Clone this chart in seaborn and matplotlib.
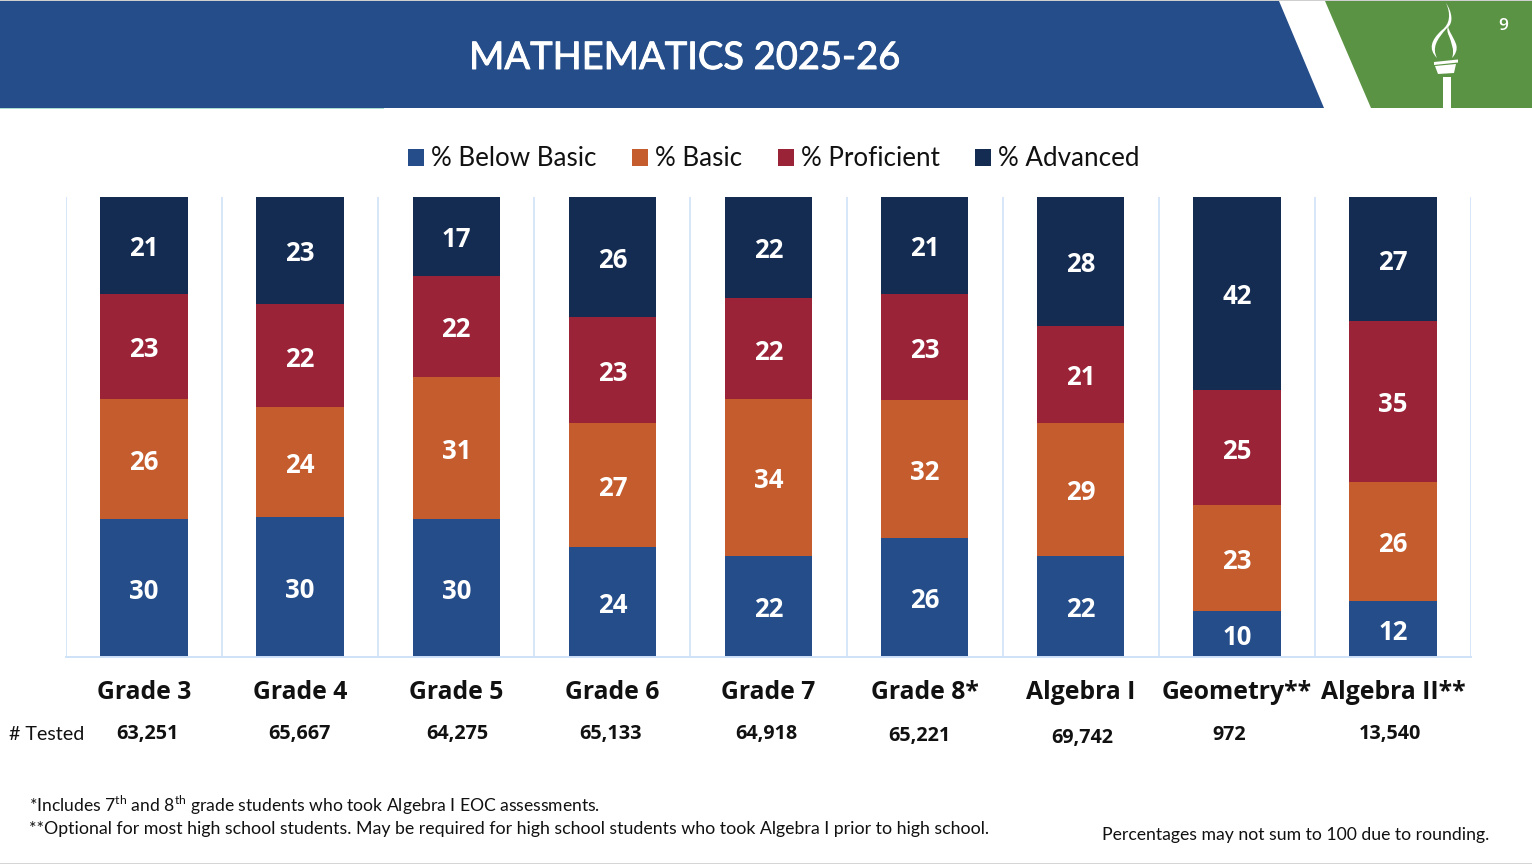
import numpy as np
import pandas as pd
import matplotlib
matplotlib.use("Agg")
import matplotlib.pyplot as plt
import matplotlib.patheffects as pe
from matplotlib.patches import Polygon, PathPatch, Rectangle
from matplotlib.path import Path
import seaborn as sns

grades = ["Grade 3", "Grade 4", "Grade 5", "Grade 6", "Grade 7", "Grade 8*",
          "Algebra I", "Geometry**", "Algebra II**"]
tested = ["63,251", "65,667", "64,275", "65,133", "64,918", "65,221", "69,742", "972", "13,540"]

# Segment heights (share of the full bar)
below_basic = [30, 30.4, 30, 23.9, 22, 25.9, 22, 10, 12.2]
basic = [26, 23.9, 30.9, 27, 34, 30, 28.9, 23, 25.9]
proficient = [23, 22.4, 22, 23, 22, 23, 21, 25, 35]
advanced = [21, 23.3, 17.1, 26.1, 22, 21.1, 28.1, 42, 26.9]

# Labels as printed on the bars
below_basic_labels = ["30", "30", "30", "24", "22", "26", "22", "10", "12"]
basic_labels = ["26", "24", "31", "27", "34", "32", "29", "23", "26"]
proficient_labels = ["23", "22", "22", "23", "22", "23", "21", "25", "35"]
advanced_labels = ["21", "23", "17", "26", "22", "21", "28", "42", "27"]

series_names = ["% Below Basic", "% Basic", "% Proficient", "% Advanced"]
series_values = [below_basic, basic, proficient, advanced]
series_labels = [below_basic_labels, basic_labels, proficient_labels, advanced_labels]
series_colors = ["#254D89", "#C55C2D", "#9A2338", "#142C52"]

title = "MATHEMATICS 2025-26"
note_1 = r"*Includes 7$^{\mathrm{th}}$ and 8$^{\mathrm{th}}$ grade students who took Algebra I EOC assessments."
note_2 = "**Optional for most high school students. May be required for high school students who took Algebra I prior to high school."
note_3 = "Percentages may not sum to 100 due to rounding."

sns.set_theme(style="white")
plt.rcParams["font.family"] = ["Lato", "DejaVu Sans"]
plt.rcParams["mathtext.fontset"] = "custom"
plt.rcParams["mathtext.rm"] = "Lato"

W, H = 1532, 864
fig = plt.figure(figsize=(W / 100, H / 100), dpi=100, facecolor="white")

# Pixel-coordinate overlay for the slide furniture
bg = fig.add_axes([0, 0, 1, 1], zorder=0)
bg.set_xlim(0, W)
bg.set_ylim(H, 0)
bg.axis("off")
navy_hdr = "#254D89"
green = "#5B9344"
bg.add_patch(Polygon([(0, 1), (1279, 1), (1324, 108), (0, 108)], fc=navy_hdr, ec="none"))
bg.add_patch(Polygon([(1325, 1), (1532, 1), (1532, 108), (1371, 108)], fc=green, ec="none"))
bg.add_patch(Rectangle((0, 0), W, 1, fc="#CFCFCF", ec="none"))
bg.add_patch(Rectangle((0, 862.5), W, 1.5, fc="#D5D5D5", ec="none"))
bg.add_patch(Rectangle((0, 107.7), 384, 1, fc="#A9DCD2", ec="none"))

# Torch
bg.add_patch(Rectangle((1443, 77), 8, 31, fc="white", ec="none"))
bg.add_patch(Polygon([(1434, 62), (1458, 59.5), (1458, 62.5), (1434, 65)], fc="white", ec="none"))
bg.add_patch(Polygon([(1435, 66), (1456, 64), (1454, 73), (1438, 74)], fc="white", ec="none"))
flame = [(1446, 3), (1451, 14), (1450, 24), (1442, 30), (1431, 40), (1428, 49), (1437, 58),
         (1432, 48), (1436, 40), (1447, 28), (1454, 23), (1452, 12), (1446, 3)]
codes = [Path.MOVETO] + [Path.CURVE4] * 12
bg.add_patch(PathPatch(Path(flame, codes), fc="white", ec="none"))
flame2 = [(1448, 26), (1449, 32), (1452, 34), (1456, 44), (1458, 50), (1455, 55), (1452, 58),
          (1455, 50), (1451, 42), (1449, 36), (1447, 32), (1447, 29), (1448, 26)]
bg.add_patch(PathPatch(Path(flame2, codes), fc="white", ec="none"))

bg.text(1503.5, 26.5, "9", color="white", fontsize=12.5, fontweight="semibold", ha="center", va="center", fontfamily="Open Sans")
bg.text(684.5, 58, title, color="white", fontsize=27.4, ha="center", va="center",
        path_effects=[pe.withStroke(linewidth=0.7, foreground="white")])
bg.text(9, 734, "# Tested", color="#111111", fontsize=14.1, ha="left", va="center")
tested_xy = [(147, 734.5), (299, 734.5), (457, 733.5), (610, 734.5), (766, 733.5), (919, 735.5), (1082, 737.5), (1229, 735.5), (1390, 733.5)]
for s, (x, y) in zip(tested, tested_xy):
    bg.text(x, y, s, color="#111111", fontsize=14.2, fontweight="bold", ha="center", va="center",
            fontfamily="Open Sans")
bg.text(29, 805.5, note_1, color="#111111", fontsize=12.65, ha="left", va="center")
bg.text(29, 829, note_2, color="#111111", fontsize=12.76, ha="left", va="center")
bg.text(1102, 835, note_3, color="#111111", fontsize=12.7, ha="left", va="center")

# Chart
ax = fig.add_axes([66 / W, 1 - 657 / H, 1405 / W, 460 / H], zorder=1)
ax.patch.set_alpha(0)
bottom = np.zeros(len(grades))
for name, vals, color in zip(series_names, series_values, series_colors):
    df = pd.DataFrame({"grade": grades, "value": vals})
    sns.barplot(data=df, x="grade", y="value", color=color, width=0.56, saturation=1,
                bottom=bottom, ax=ax, label=name, errorbar=None, order=grades, linewidth=0)
    bottom = bottom + np.array(vals)
for cont, labels in zip(ax.containers, series_labels):
    anns = ax.bar_label(cont, labels=labels, label_type="center", color="white",
                        fontsize=18.5, fontweight="bold", fontfamily="Open Sans")
    for ann in anns:
        ann.xyann = (0, -2.4)

ax.set_xlim(-0.5, 8.5)
ax.set_ylim(0, 100)
ax.set_xlabel("")
ax.set_ylabel("")
ax.set_yticks([])
ax.set_xticks(np.arange(-0.5, 9), minor=True)
ax.grid(True, which="minor", axis="x", color="#CFE2F8", lw=1.2)
ax.grid(False, which="major")
ax.set_axisbelow(True)
ax.tick_params(axis="x", which="both", length=0, pad=16.5)
ax.set_xticks(range(len(grades)))
ax.set_xticklabels(grades, fontsize=17.8, fontweight="bold", color="#111111", fontfamily="Open Sans")
for side in ["top", "right", "left"]:
    ax.spines[side].set_visible(False)
ax.spines["bottom"].set_color("#CFE2F8")
ax.spines["bottom"].set_linewidth(1.4)

leg = ax.legend(loc="center left", bbox_to_anchor=(342 / 1405, 1 + 38 / 460), ncol=4, frameon=False,
                fontsize=18.7, handlelength=0.62, handleheight=0.62, handletextpad=0.27,
                columnspacing=1.36, borderpad=0, borderaxespad=0, labelcolor="#111111")

fig.savefig("out.png", dpi=100, facecolor="white")
